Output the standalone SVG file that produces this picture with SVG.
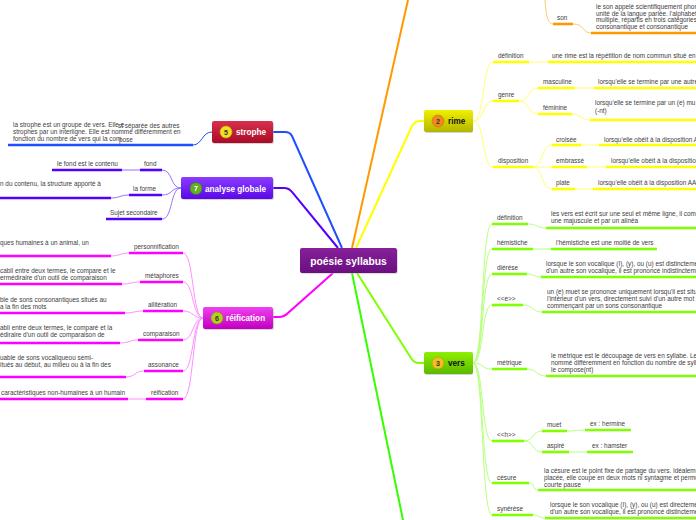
<svg xmlns="http://www.w3.org/2000/svg" width="696" height="520" viewBox="0 0 696 520">
<style>
.t{font-family:"Liberation Sans",Arial,sans-serif;font-size:6.4px;fill:#404040}
.n{font-family:"Liberation Sans",Arial,sans-serif;font-size:8.2px;font-weight:bold}
.b{font-family:"Liberation Sans",Arial,sans-serif;font-size:7px;font-weight:bold;text-anchor:middle}
.ul{fill:none;stroke-width:2.6;stroke-linecap:butt}
.th{fill:none;stroke-width:1}
.cn{fill:none;stroke-width:2}
.o{stroke:#ff9900}.ot{stroke:#ffc870}
.y{stroke:#ffff00}.yt{stroke:#ffff70}
.g{stroke:#80ff00}.gt{stroke:#b8ff80}
.bl{stroke:#1e50ff}
.p{stroke:#5500ff}.pt{stroke:#9a70ff}
.m{stroke:#ff00ff}.mt{stroke:#ff90ff}
</style>
<defs>
<linearGradient id="gc" x1="0" y1="0" x2="0" y2="1"><stop offset="0" stop-color="#86209a"/><stop offset="1" stop-color="#6a0f80"/></linearGradient>
<linearGradient id="gy" x1="0" y1="0" x2="0" y2="1"><stop offset="0" stop-color="#f0f000"/><stop offset="1" stop-color="#b5b500"/></linearGradient>
<linearGradient id="gg" x1="0" y1="0" x2="0" y2="1"><stop offset="0" stop-color="#8ef000"/><stop offset="1" stop-color="#5cb800"/></linearGradient>
<linearGradient id="gr" x1="0" y1="0" x2="0" y2="1"><stop offset="0" stop-color="#d8304c"/><stop offset="1" stop-color="#a80c28"/></linearGradient>
<linearGradient id="gp" x1="0" y1="0" x2="0" y2="1"><stop offset="0" stop-color="#8a3cff"/><stop offset="1" stop-color="#5a08e8"/></linearGradient>
<linearGradient id="gm" x1="0" y1="0" x2="0" y2="1"><stop offset="0" stop-color="#f040f0"/><stop offset="1" stop-color="#c000c0"/></linearGradient>
</defs>
<rect width="696" height="520" fill="#ffffff"/>

<g id="connectors">
<!-- central -->
<path class="cn o" d="M352 248 L408 0"/>
<path class="cn y" d="M356 248 L412 126 Q415 121 420 121 L424 121"/>
<path class="cn bl" d="M342 248 L292 136 Q290 132 285 132 L273 132"/>
<path class="cn p" d="M338 248 L292 192 Q289 188 284 188 L273 188"/>
<path class="cn m" d="M333 273 L288 313 Q284 317 279 317 L273 317"/>
<path class="cn" stroke="#33ff00" d="M352 273 L403 520"/>
<path class="cn g" d="M357 273 L411 358 Q414 363 419 363 L424 363"/>
<!-- orange top -->
<path class="th ot" d="M545 0 C546 16 548 24 553 24"/>
<path class="th ot" d="M573 24 C585 24 582 33 591 33"/>
<!-- rime -->
<path class="th yt" d="M473 121 C485 121 482 62 493 62"/>
<path class="th yt" d="M473 121 C485 121 482 101 493 101"/>
<path class="th yt" d="M473 121 C485 121 482 167 493 167"/>
<path class="th yt" d="M529 62 L548 62"/>
<path class="th yt" d="M519 101 C530 101 527 88 538 88"/>
<path class="th yt" d="M519 101 C530 101 527 114 538 114"/>
<path class="th yt" d="M575 88 L594 88"/>
<path class="th yt" d="M572 114 C581 114 581 120 590 120"/>
<path class="th yt" d="M533 167 C543 167 541 145 552 145"/>
<path class="th yt" d="M533 167 L552 167"/>
<path class="th yt" d="M533 167 C543 167 541 189 552 189"/>
<path class="th yt" d="M581 145 L599 145"/>
<path class="th yt" d="M587 167 L606 167"/>
<path class="th yt" d="M575 189 L593 189"/>
<!-- vers -->
<path class="th gt" d="M473 363 C484 363 481 224 492 224"/>
<path class="th gt" d="M473 363 C484 363 481 249 492 249"/>
<path class="th gt" d="M473 363 C484 363 481 274 492 274"/>
<path class="th gt" d="M473 363 C484 363 481 305 492 305"/>
<path class="th gt" d="M473 363 C484 363 481 369 492 369"/>
<path class="th gt" d="M473 363 C484 363 481 441 492 441"/>
<path class="th gt" d="M473 363 C484 363 481 483 492 483"/>
<path class="th gt" d="M473 363 C484 363 481 515 492 515"/>
<path class="th gt" d="M528 224 C538 224 536 228 546 228"/>
<path class="th gt" d="M533 249 L551 249"/>
<path class="th gt" d="M527 274 C534 274 534 277 541 277"/>
<path class="th gt" d="M523 305 C533 305 532 312 542 312"/>
<path class="th gt" d="M527 369 C537 369 536 376 546 376"/>
<path class="th gt" d="M524 441 C534 441 532 431 542 431"/>
<path class="th gt" d="M524 441 C534 441 532 452 542 452"/>
<path class="th gt" d="M567 431 C575 431 577 430 585 430"/>
<path class="th gt" d="M569 452 L587 452"/>
<path class="th gt" d="M529 483 C535 483 532 490 538 490"/>
<path class="th gt" d="M533 515 C539 515 539 518 545 518"/>
<!-- strophe -->
<path class="th bl" d="M212 132 C202 132 202 145 193 145"/>
<!-- analyse -->
<path class="th pt" d="M181 188 C170 188 173 170 162 170"/>
<path class="th pt" d="M181 188 C170 188 173 195 162 195"/>
<path class="th pt" d="M181 188 C170 188 173 219 162 219"/>
<path class="th pt" d="M140 170 L122 170"/>
<path class="th pt" d="M129 195 C120 195 120 198 111 198"/>
<!-- reification -->
<path class="th mt" d="M203 318 C192 318 194 253 183 253"/>
<path class="th mt" d="M203 318 C192 318 194 282 183 282"/>
<path class="th mt" d="M203 318 C192 318 194 311 183 311"/>
<path class="th mt" d="M203 318 C192 318 194 340 183 340"/>
<path class="th mt" d="M203 318 C192 318 194 371 183 371"/>
<path class="th mt" d="M203 318 C192 318 194 399 183 399"/>
<path class="th mt" d="M129 253 C120 253 120 256 111 256"/>
<path class="th mt" d="M140 282 C131 282 131 284 122 284"/>
<path class="th mt" d="M143 311 C134 311 134 313 125 313"/>
<path class="th mt" d="M138 340 C129 340 129 343 120 343"/>
<path class="th mt" d="M144 371 C135 371 135 377 126 377"/>
<path class="th mt" d="M146 399 L128 399"/>
</g>

<g id="center">
<rect x="301" y="249" width="97" height="25" rx="2" fill="#bbbbbb" opacity="0.5"/>
<rect x="300" y="248" width="97" height="25" rx="2" fill="url(#gc)"/>
<text x="348.5" y="264.5" text-anchor="middle" font-family="Liberation Sans, Arial, sans-serif" font-size="10.3" font-weight="bold" fill="#ffffff">poésie syllabus</text>
</g>

<g id="son">
<text class="t" x="557" y="19.5">son</text>
<path class="ul o" d="M553 24 L573 24"/>
<text class="t" x="596" y="9">le son appelé scientifiquement phon</text>
<text class="t" x="596" y="15.5">unité de la langue parlée. l'alphabet</text>
<text class="t" x="596" y="22">multiple, répartis en trois catégories</text>
<text class="t" x="596" y="28.5">consonantique et consonantique</text>
<path class="ul o" d="M591 33 L696 33"/>
</g>

<g id="rime">
<rect x="425" y="111" width="48" height="22" rx="2" fill="#aaaaaa" opacity="0.5"/>
<rect x="424" y="110" width="49" height="22" rx="2" fill="url(#gy)"/>
<circle cx="438" cy="121" r="6" fill="#f08a20" stroke="#d06a10" stroke-width="0.6"/>
<text class="b" x="438" y="123.5" fill="#333">2</text>
<text class="n" x="448" y="124" fill="#111">rime</text>
</g>
<g id="rime-definition">
<text class="t" x="498" y="57.5">définition</text>
<path class="ul y" d="M493 62 L529 62"/>
<text class="t" x="552" y="57.5">une rime est la répétition de nom commun situé en</text>
<path class="ul y" d="M548 62 L696 62"/>
</g>
<g id="rime-genre">
<text class="t" x="498" y="97">genre</text>
<path class="ul y" d="M493 101 L519 101"/>
<text class="t" x="543" y="83.5">masculine</text>
<path class="ul y" d="M538 88 L575 88"/>
<text class="t" x="598" y="83.5">lorsqu'elle se termine par une autre</text>
<path class="ul y" d="M594 88 L696 88"/>
<text class="t" x="543" y="110">féminine</text>
<path class="ul y" d="M538 114 L572 114"/>
<text class="t" x="595" y="105">lorsqu'elle se termine par un (e) mu</text>
<text class="t" x="595" y="112.5">(-nt)</text>
<path class="ul y" d="M590 120 L696 120"/>
</g>
<g id="rime-disposition">
<text class="t" x="498" y="162.5">disposition</text>
<path class="ul y" d="M493 167 L533 167"/>
<text class="t" x="556" y="141.5">croisée</text>
<path class="ul y" d="M552 145 L581 145"/>
<text class="t" x="604" y="141.5">lorsqu'elle obéit à la disposition A</text>
<path class="ul y" d="M599 145 L696 145"/>
<text class="t" x="556" y="162.5">embrassé</text>
<path class="ul y" d="M552 167 L587 167"/>
<text class="t" x="611" y="162.5">lorsqu'elle obéit à la disposition</text>
<path class="ul y" d="M606 167 L696 167"/>
<text class="t" x="556" y="184.5">plate</text>
<path class="ul y" d="M552 189 L575 189"/>
<text class="t" x="598" y="184.5">lorsqu'elle obéit à la disposition AAB</text>
<path class="ul y" d="M593 189 L696 189"/>
</g>

<g id="vers">
<rect x="425" y="353" width="48" height="22" rx="2" fill="#aaaaaa" opacity="0.5"/>
<rect x="424" y="352" width="49" height="22" rx="2" fill="url(#gg)"/>
<circle cx="438" cy="363" r="6" fill="#f0c020" stroke="#c89010" stroke-width="0.6"/>
<text class="b" x="438" y="365.5" fill="#333">3</text>
<text class="n" x="448" y="366" fill="#111">vers</text>
</g>
<g id="vers-children">
<text class="t" x="497" y="220">définition</text>
<path class="ul g" d="M492 224 L528 224"/>
<text class="t" x="551" y="216">les vers est écrit sur une seul et même ligne, il comm</text>
<text class="t" x="551" y="223">une majuscule et par un alinéa</text>
<path class="ul g" d="M546 228 L696 228"/>
<text class="t" x="497" y="244.5">hémistiche</text>
<path class="ul g" d="M492 249 L533 249"/>
<text class="t" x="556" y="244.5">l'hémistiche est une moitié de vers</text>
<path class="ul g" d="M551 249 L657 249"/>
<text class="t" x="497" y="269.5">diérèse</text>
<path class="ul g" d="M492 274 L527 274"/>
<text class="t" x="546" y="265.5">lorsque le son vocalique (I), (y), ou (u) est distinctement</text>
<text class="t" x="546" y="272.5">d'un autre son vocalique, il est prononcé indistinctement</text>
<path class="ul g" d="M541 277 L696 277"/>
<text class="t" x="497" y="300.5">&lt;&lt;e&gt;&gt;</text>
<path class="ul g" d="M492 305 L523 305"/>
<text class="t" x="547" y="294">un (e) muet se prononce uniquement lorsqu'il est situ</text>
<text class="t" x="547" y="301">l'intérieur d'un vers, directement suivi d'un autre mot</text>
<text class="t" x="547" y="308">commençant par un sons consonantique</text>
<path class="ul g" d="M542 312 L696 312"/>
<text class="t" x="497" y="364.5">métrique</text>
<path class="ul g" d="M492 369 L527 369"/>
<text class="t" x="551" y="357.5">le métrique est le découpage de vers en syllabe. Le v</text>
<text class="t" x="551" y="364.5">nommé différemment en fonction du nombre de sylla</text>
<text class="t" x="551" y="371.5">le compose(nt)</text>
<path class="ul g" d="M546 376 L696 376"/>
<text class="t" x="497" y="436.5">&lt;&lt;h&gt;&gt;</text>
<path class="ul g" d="M492 441 L524 441"/>
<text class="t" x="547" y="426.5">muet</text>
<path class="ul g" d="M542 431 L567 431"/>
<text class="t" x="590" y="425.5">ex : hermine</text>
<path class="ul g" d="M585 430 L631 430"/>
<text class="t" x="547" y="447.5">aspiré</text>
<path class="ul g" d="M542 452 L569 452"/>
<text class="t" x="592" y="447.5">ex : hamster</text>
<path class="ul g" d="M587 452 L633 452"/>
<text class="t" x="497" y="479.5">césure</text>
<path class="ul g" d="M492 483 L529 483"/>
<text class="t" x="544" y="472.5">la césure est le point fixe de partage du vers. Idéaleme</text>
<text class="t" x="544" y="479.5">placée, elle coupe en deux mots ni syntagme et perme</text>
<text class="t" x="544" y="486.5">courte pause</text>
<path class="ul g" d="M538 490 L696 490"/>
<text class="t" x="497" y="510.5">synérèse</text>
<path class="ul g" d="M492 515 L533 515"/>
<text class="t" x="550" y="507">lorsque le son vocalique (I), (y), ou (u) est directeme</text>
<text class="t" x="550" y="514">d'un autre son vocalique, il est prononcé distinctemen</text>
<path class="ul g" d="M545 518 L696 518"/>
</g>

<g id="strophe">
<rect x="213" y="122" width="61" height="22" rx="2" fill="#aaaaaa" opacity="0.5"/>
<rect x="212" y="121" width="61" height="22" rx="2" fill="url(#gr)"/>
<circle cx="226" cy="132" r="6" fill="#f0e020" stroke="#c8b010" stroke-width="0.6"/>
<text class="b" x="226" y="134.5" fill="#333">5</text>
<text class="n" x="236" y="135" fill="#ffffff">strophe</text>
</g>
<g id="strophe-text">
<text class="t" x="13" y="126.5">la strophe est un groupe de vers. Elle e</text>
<text class="t" x="118" y="127.5">st séparée des autres</text>
<text class="t" x="13" y="133.5">strophes par un interligne. Elle est nommé différemment en</text>
<text class="t" x="13" y="140.5">fonction du nombre de vers qui la com</text>
<text class="t" x="119" y="141.5">pose</text>
<path class="ul bl" d="M8 145 L193 145"/>
</g>

<g id="analyse">
<rect x="182" y="178" width="92" height="22" rx="2" fill="#aaaaaa" opacity="0.5"/>
<rect x="181" y="177" width="92" height="22" rx="2" fill="url(#gp)"/>
<circle cx="196" cy="188.5" r="6" fill="#60b020" stroke="#408010" stroke-width="0.6"/>
<text class="b" x="196" y="191" fill="#ffffff">7</text>
<text class="n" x="205" y="191.5" fill="#ffffff">analyse globale</text>
</g>
<g id="analyse-children">
<text class="t" x="144" y="165.5">fond</text>
<path class="ul p" d="M140 170 L162 170"/>
<text class="t" x="57" y="165.5">le fond est le contenu</text>
<path class="ul p" d="M52 170 L122 170"/>
<text class="t" x="133" y="190.5">la forme</text>
<path class="ul p" d="M129 195 L162 195"/>
<text class="t" x="0" y="186">n du contenu, la structure apporté à</text>
<path class="ul p" d="M0 198 L111 198"/>
<text class="t" x="110" y="214.5">Sujet secondaire</text>
<path class="ul p" d="M106 219 L162 219"/>
</g>

<g id="reification">
<rect x="204" y="308" width="70" height="22" rx="2" fill="#aaaaaa" opacity="0.5"/>
<rect x="203" y="307" width="70" height="22" rx="2" fill="url(#gm)"/>
<circle cx="217" cy="318" r="6" fill="#b0d020" stroke="#88a010" stroke-width="0.6"/>
<text class="b" x="217" y="320.5" fill="#333">6</text>
<text class="n" x="226" y="321" fill="#ffffff">réification</text>
</g>
<g id="reification-children">
<text class="t" x="134" y="248.5">personnification</text>
<path class="ul m" d="M129 253 L183 253"/>
<text class="t" x="0" y="244.5">ques humaines à un animal, un</text>
<path class="ul m" d="M0 256 L111 256"/>
<text class="t" x="145" y="277.5">métaphores</text>
<path class="ul m" d="M140 282 L183 282"/>
<text class="t" x="0" y="273">cabli entre deux termes, le compare et le</text>
<text class="t" x="0" y="280">ermédiraire d'un outil de comparaison</text>
<path class="ul m" d="M0 284 L122 284"/>
<text class="t" x="148" y="306.5">allitération</text>
<path class="ul m" d="M143 311 L183 311"/>
<text class="t" x="0" y="302">ble de sons consonantiques situés au</text>
<text class="t" x="0" y="309">a la fin des mots</text>
<path class="ul m" d="M0 313 L125 313"/>
<text class="t" x="143" y="335.5">comparaison</text>
<path class="ul m" d="M138 340 L183 340"/>
<text class="t" x="0" y="330">abli entre deux termes, le comparé et la</text>
<text class="t" x="0" y="337">édiraire d'un outil de comparaison de</text>
<path class="ul m" d="M0 343 L120 343"/>
<text class="t" x="148" y="366.5">assonance</text>
<path class="ul m" d="M144 371 L183 371"/>
<text class="t" x="0" y="359.5">uable de sons vocaliqueou semi-</text>
<text class="t" x="0" y="366.5">itués au début, au milieu ou à la fin des</text>
<path class="ul m" d="M0 377 L126 377"/>
<text class="t" x="151" y="394.5">réification</text>
<path class="ul m" d="M146 399 L183 399"/>
<text class="t" x="1" y="394.5">caractéristiques non-humaines à un humain</text>
<path class="ul m" d="M0 399 L128 399"/>
</g>
</svg>
